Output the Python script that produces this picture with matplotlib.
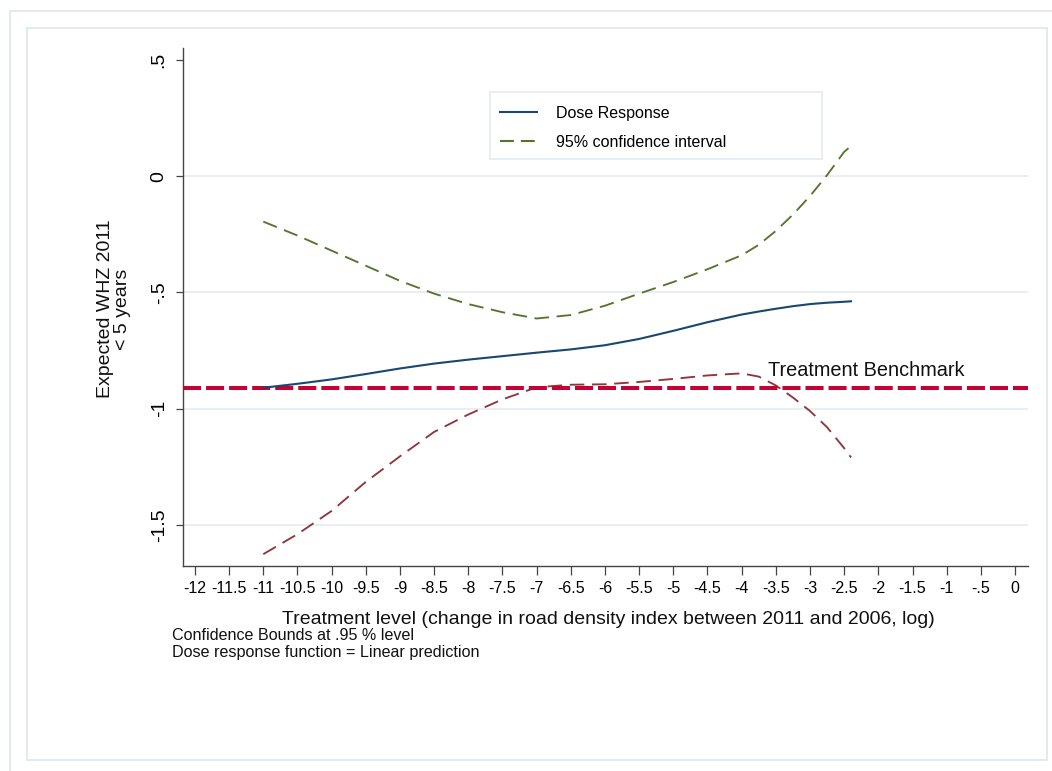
import numpy as np
import matplotlib
matplotlib.use("Agg")
import matplotlib.pyplot as plt
from matplotlib.patches import Rectangle
from matplotlib.lines import Line2D

plt.rcParams['font.family'] = ['Liberation Sans', 'DejaVu Sans']
plt.rcParams['lines.scale_dashes'] = False

# treatment grid (log change in road density index)
treatment = [-11, -10.5, -10, -9.5, -9, -8.5, -8, -7.5, -7, -6.5, -6, -5.5,
             -5, -4.5, -4, -3.75, -3.5, -3.25, -3, -2.75, -2.5, -2.4]
dose_response = [-0.910, -0.893, -0.874, -0.851, -0.827, -0.806, -0.789, -0.774,
                 -0.759, -0.745, -0.727, -0.700, -0.665, -0.628, -0.595, -0.582,
                 -0.570, -0.559, -0.550, -0.544, -0.540, -0.538]
ci_upper = [-0.195, -0.255, -0.320, -0.385, -0.450, -0.505, -0.550, -0.585,
            -0.612, -0.597, -0.557, -0.505, -0.455, -0.400, -0.340, -0.295,
            -0.235, -0.165, -0.085, 0.005, 0.105, 0.130]
ci_lower = [-1.626, -1.540, -1.440, -1.315, -1.205, -1.100, -1.025, -0.960,
            -0.908, -0.897, -0.895, -0.885, -0.872, -0.857, -0.848, -0.862,
            -0.900, -0.952, -1.010, -1.080, -1.170, -1.210]
benchmark = -0.91

xticks = [-12, -11.5, -11, -10.5, -10, -9.5, -9, -8.5, -8, -7.5, -7, -6.5,
          -6, -5.5, -5, -4.5, -4, -3.5, -3, -2.5, -2, -1.5, -1, -0.5, 0]
xticklabels = ['-12', '-11.5', '-11', '-10.5', '-10', '-9.5', '-9', '-8.5', '-8',
               '-7.5', '-7', '-6.5', '-6', '-5.5', '-5', '-4.5', '-4', '-3.5',
               '-3', '-2.5', '-2', '-1.5', '-1', '-.5', '0']
yticks = [0.5, 0, -0.5, -1, -1.5]
yticklabels = ['.5', '0', '-.5', '-1', '-1.5']

W, H = 1052, 771
fig = plt.figure(figsize=(W / 100, H / 100), dpi=100)

def fx(px):
    return px / W

def fy(py):
    return 1 - py / H

frame_col = '#e3eaed'
# outer and inner graph region borders
fig.patches.append(Rectangle((fx(10), fy(790)), fx(1070) - fx(10), fy(11) - fy(790),
                             transform=fig.transFigure, fill=False,
                             edgecolor=frame_col, lw=1.5))
fig.patches.append(Rectangle((fx(27), fy(760)), fx(1047) - fx(27), fy(28) - fy(760),
                             transform=fig.transFigure, fill=False,
                             edgecolor=frame_col, lw=1.5))

ax = fig.add_axes([fx(183), fy(566), fx(1028) - fx(183), fy(48) - fy(566)])
ax.set_xlim(-12.175, 0.19)
ax.set_ylim(-1.677, 0.552)

for yv in [0, -0.5, -1, -1.5]:
    ax.axhline(yv, color='#e6edf0', lw=1.3, zorder=0)

navy = '#1a476f'
green = '#55752f'
maroon = '#90353b'
red = '#c40233'

ax.axhline(benchmark, color=red, lw=2.9, dashes=(13, 3.6), zorder=3)
ax.plot(treatment, ci_upper, color=green, lw=1.35, dashes=(10.5, 5.5), zorder=2)
ax.plot(treatment, ci_lower, color=maroon, lw=1.35, dashes=(10.5, 5.5), zorder=2)
ax.plot(treatment, dose_response, color=navy, lw=1.5, zorder=4)

ax.text(-3.62, benchmark + 0.035, 'Treatment Benchmark', fontsize=14.3,
        color='#111111', va='bottom', ha='left')

for side in ['top', 'right']:
    ax.spines[side].set_visible(False)
for side in ['left', 'bottom']:
    ax.spines[side].set_color('#444444')
    ax.spines[side].set_linewidth(1.0)

ax.set_xticks(xticks)
ax.set_xticklabels(xticklabels)
ax.set_yticks(yticks)
ax.set_yticklabels(yticklabels, rotation=90, va='center')
ax.tick_params(axis='x', length=6.5, width=0.9, color='#444444', labelsize=11.5,
               pad=4)
ax.tick_params(axis='y', length=5, width=0.9, color='#444444', labelsize=14,
               pad=6)

fig.text(fx(608), fy(620), 'Treatment level (change in road density index between 2011 and 2006, log)',
         fontsize=14, ha='center', va='center', color='#111111')
fig.text(fx(114), fy(309), 'Expected WHZ 2011\n< 5 years', fontsize=14,
         rotation=90, ha='center', va='center', multialignment='center',
         color='#111111', linespacing=0.95)
fig.text(fx(172), fy(636), 'Confidence Bounds at .95 % level', fontsize=11.6,
         ha='left', va='center', color='#111111')
fig.text(fx(172), fy(652), 'Dose response function = Linear prediction', fontsize=11.6,
         ha='left', va='center', color='#111111')

# legend box
fig.patches.append(Rectangle((fx(490), fy(159)), fx(822) - fx(490), fy(92) - fy(159),
                             transform=fig.transFigure, fill=True, facecolor='white',
                             edgecolor=frame_col, lw=1.2, zorder=5))
handles = [Line2D([], [], color=navy, lw=1.5),
           Line2D([], [], color=green, lw=1.5, dashes=(10, 5))]
fig.legend(handles, ['Dose Response', '95% confidence interval'],
           loc='upper left', bbox_to_anchor=(fx(500), fy(106)),
           frameon=False, fontsize=11.5, handlelength=2.3, handletextpad=1.2,
           labelspacing=0.85, borderpad=0, borderaxespad=0)

fig.savefig('out.png', dpi=100)
